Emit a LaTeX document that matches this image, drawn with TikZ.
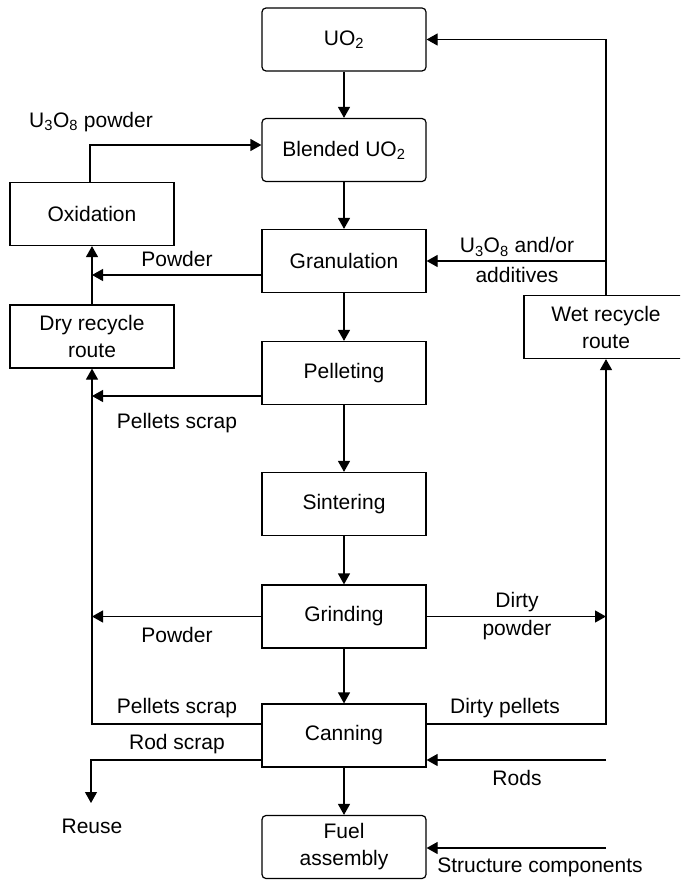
\documentclass[tikz,border=0pt]{standalone}
\usepackage{fontspec}
\setmainfont{Liberation Sans}
\usetikzlibrary{arrows.meta}
\begin{document}
\begin{tikzpicture}[x=1pt,y=-1pt,
  font=\fontsize{21}{27}\selectfont,
  line width=1.2pt,
  box/.style={draw, minimum width=164pt, minimum height=63pt, inner sep=2pt, align=center},
  rbox/.style={box, rounded corners=4pt},
  arr/.style={-{Triangle[length=11pt,width=12pt]}},
  lbl/.style={inner sep=0pt, align=center}]
\clip (0,0) rectangle (680,880);
\path[use as bounding box] (0,0) rectangle (680,880);

% main production line
\node[rbox] (uo2)   at (344,39.5)  {UO\textsubscript{2}};
\node[rbox] (blend) at (344,150)   {Blended UO\textsubscript{2}};
\node[box]  (gran)  at (344,261)   {Granulation};
\node[box]  (pell)  at (344,373)   {Pelleting};
\node[box]  (sint)  at (344,504)   {Sintering};
\node[box]  (grind) at (344,616.5) {Grinding};
\node[box]  (can)   at (344,735.5) {Canning};
\node[rbox] (fuel)  at (344,847)   {Fuel\\assembly};

% recycle routes
\node[box] (oxid) at (92,214)   {Oxidation};
\node[box] (dry)  at (92,336.5) {Dry recycle\\route};
\node[box] (wet)  at (606,327)  {Wet recycle\\route};

% free ends
\coordinate (reuse) at (91,803);
\coordinate (rods)  at (606,760);
\coordinate (struct) at (606,848);

% main flow
\draw[arr] (uo2) -- (blend);
\draw[arr] (blend) -- (gran);
\draw[arr] (gran) -- (pell);
\draw[arr] (pell) -- (sint);
\draw[arr] (sint) -- (grind);
\draw[arr] (grind) -- (can);
\draw[arr] (can) -- (fuel);

% dry recycle loop
\draw[arr] ([xshift=-2pt]oxid.north) |- ([yshift=5pt]blend.west);
\draw[arr] (dry.north) -- (oxid.south);
\draw[arr] ([yshift=-14pt]gran.west) -- ([yshift=-14pt]gran.west -| dry.north);
\draw[arr] ([yshift=-23pt]pell.west) -- ([yshift=-23pt]pell.west -| dry.south);
\draw[arr] (grind.west) -- (grind.west -| dry.south);
\draw[arr] ([yshift=11.5pt]can.west) -| (dry.south);
\draw[arr] ([yshift=-24.5pt]can.west) -| (reuse);

% wet recycle loop
\draw[arr] (wet.north) |- (uo2.east);
\draw[arr] (wet.north |- gran.east) -- (gran.east);
\draw[arr] (grind.east) -- (grind.east -| wet.south);
\draw[arr] ([yshift=11.5pt]can.east) -| (wet.south);
\draw[arr] (rods) -- ([yshift=-24.5pt]can.east);
\draw[arr] (struct) -- ([yshift=-1pt]fuel.east);

% labels
\node[lbl] (l1)  at (91,122)  {U\textsubscript{3}O\textsubscript{8} powder};
\node[lbl] (l2)  at (177,259) {Powder};
\node[lbl] (l3)  at (177,423) {Pellets scrap};
\node[lbl] (l4)  at (177,635) {Powder};
\node[lbl] (l5)  at (177,708) {Pellets scrap};
\node[lbl] (l6)  at (177,744) {Rod scrap};
\node[lbl] (l7)  at (92,826)  {Reuse};
\node[lbl] (l8)  at (517,247) {U\textsubscript{3}O\textsubscript{8} and/or};
\node[lbl] (l9)  at (517,275) {additives};
\node[lbl] (l10) at (517,602) {Dirty};
\node[lbl] (l11) at (517,630) {powder};
\node[lbl] (l12) at (505,708) {Dirty pellets};
\node[lbl] (l13) at (517,778) {Rods};
\node[lbl] (l14) at (540,867) {Structure components};
\end{tikzpicture}
\end{document}
